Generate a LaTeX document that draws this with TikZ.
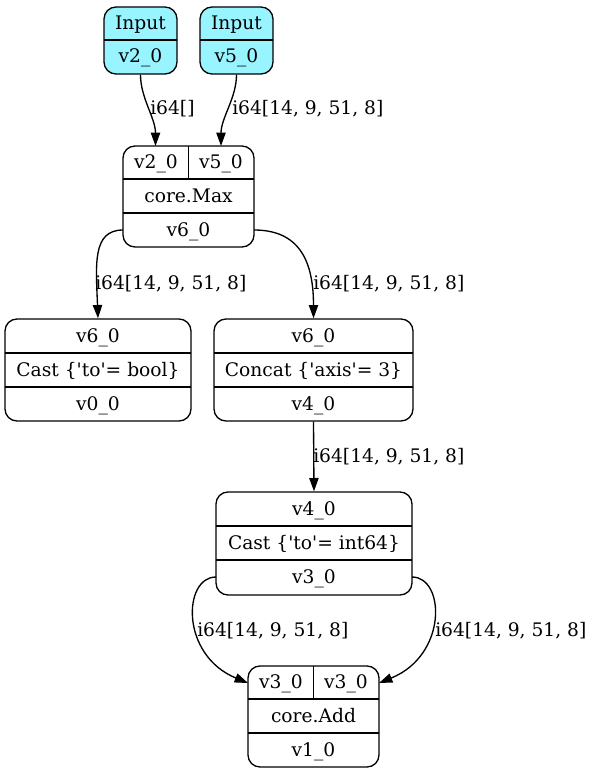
\documentclass[tikz,border=0pt]{standalone}
\usepackage{fontspec}
\setmainfont{DejaVu Serif}
\usetikzlibrary{arrows.meta,fit}
\definecolor{inputcyan}{RGB}{152,245,255}
\begin{document}
\begin{tikzpicture}[x=0.75pt,y=-0.75pt,
  rec/.style={draw,line width=1pt,rounded corners=9pt,inner sep=0pt},
  inrec/.style={rec,fill=inputcyan},
  sep/.style={line width=1pt},
  txt/.style={anchor=base,inner sep=0pt,font=\fontsize{14}{16.8}\selectfont},
  lbl/.style={anchor=base west,inner sep=0pt,font=\fontsize{14}{16.8}\selectfont},
  edge/.style={line width=1pt,-{Triangle[length=10pt,width=7pt]}}]
\useasboundingbox (0,0) rectangle (593,774);
\newcommand{\q}{\textquotesingle}

% input records
\node[inrec,fit={(104,7) (177,74)}] (in1) {};
\draw[sep] (104,40) -- (177,40);
\node[txt] (in1a) at (140.5,29.5) {Input};
\node[txt] (in1b) at (140.5,63) {v2\_0};

\node[inrec,fit={(200,7) (273,74)}] (in2) {};
\draw[sep] (200,40) -- (273,40);
\node[txt] (in2a) at (236.5,29.5) {Input};
\node[txt] (in2b) at (236.5,63) {v5\_0};

% core.Max
\node[rec,fit={(123,146) (254,247)}] (max) {};
\draw[sep] (123,179) -- (254,179);
\draw[sep] (123,213) -- (254,213);
\draw[sep] (188.5,146) -- (188.5,179);
\node[txt] (maxi1) at (156,168.5) {v2\_0};
\node[txt] (maxi2) at (221,168.5) {v5\_0};
\node[txt] (maxop) at (188.5,202) {core.Max};
\node[txt] (maxo) at (188.5,236) {v6\_0};
\coordinate (maxp1) at (155.5,146);
\coordinate (maxp2) at (221,146);
\coordinate (maxw) at (123,230);
\coordinate (maxe) at (254,230);

% Cast to bool
\node[rec,fit={(5,319) (191,421)}] (castb) {};
\draw[sep] (5,353) -- (191,353);
\draw[sep] (5,387) -- (191,387);
\node[txt] (castbi) at (98,342) {v6\_0};
\node[txt] (castbop) at (98,376) {Cast \{\q to\q= bool\}};
\node[txt] (castbo) at (98,410) {v0\_0};

% Concat
\node[rec,fit={(214,319) (413,421)}] (concat) {};
\draw[sep] (214,353) -- (413,353);
\draw[sep] (214,387) -- (413,387);
\node[txt] (concati) at (313.5,342) {v6\_0};
\node[txt] (concatop) at (313.5,376) {Concat \{\q axis\q= 3\}};
\node[txt] (concato) at (313.5,410) {v4\_0};

% Cast to int64
\node[rec,fit={(216,492) (412,595)}] (casti) {};
\draw[sep] (216,526) -- (412,526);
\draw[sep] (216,560) -- (412,560);
\node[txt] (castii) at (314,515) {v4\_0};
\node[txt] (castiop) at (314,549) {Cast \{\q to\q= int64\}};
\node[txt] (castio) at (314,583) {v3\_0};
\coordinate (castiw) at (216,577);
\coordinate (castie) at (412,577);

% core.Add
\node[rec,fit={(248,666) (379,767)}] (add) {};
\draw[sep] (248,699) -- (379,699);
\draw[sep] (248,733) -- (379,733);
\draw[sep] (313.5,666) -- (313.5,699);
\node[txt] (addi1) at (281,688.5) {v3\_0};
\node[txt] (addi2) at (346,688.5) {v3\_0};
\node[txt] (addop) at (313.5,722) {core.Add};
\node[txt] (addo) at (313.5,756) {v1\_0};
\coordinate (addw) at (248,683);
\coordinate (adde) at (379,683);

% edges
\draw[edge] (in1.south) .. controls (140.5,98) and (155.5,118) .. (maxp1);
\draw[edge] (in2.south) .. controls (236.5,98) and (221,118) .. (maxp2);
\draw[edge] (maxw) .. controls (92,230) and (96,265) .. (castb.north);
\draw[edge] (maxe) .. controls (300,230) and (313.5,262) .. (concat.north);
\draw[edge] (concat.south) -- (casti.north);
\draw[edge] (castiw) .. controls (183,577) and (180,655) .. (addw);
\draw[edge] (castie) .. controls (445,577) and (448,655) .. (adde);

% edge labels
\node[lbl] (l1) at (150,114) {i64[]};
\node[lbl] (l2) at (232,114) {i64[14, 9, 51, 8]};
\node[lbl] (l3) at (95,289) {i64[14, 9, 51, 8]};
\node[lbl] (l4) at (313,289) {i64[14, 9, 51, 8]};
\node[lbl] (l5) at (313,462) {i64[14, 9, 51, 8]};
\node[lbl] (l6) at (197,636) {i64[14, 9, 51, 8]};
\node[lbl] (l7) at (435,636) {i64[14, 9, 51, 8]};
\end{tikzpicture}
\end{document}
